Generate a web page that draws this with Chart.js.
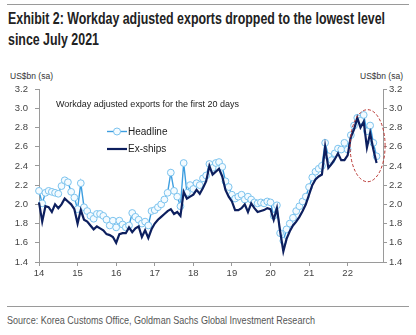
<!DOCTYPE html>
<html><head><meta charset="utf-8">
<script src="https://cdn.jsdelivr.net/npm/chart.js@4.4.0/dist/chart.umd.min.js"></script>
<style>
html,body{margin:0;padding:0;background:#fff;}
body{width:416px;height:335px;position:relative;overflow:hidden;font-family:"Liberation Sans",Arial,sans-serif;}
.rule{position:absolute;left:7px;width:402px;height:1px;background:#9a9a9a;}
#title{position:absolute;left:8px;top:9px;font-family:"Liberation Sans",Arial,sans-serif;font-weight:bold;font-size:16px;line-height:20.5px;color:#222;white-space:nowrap;transform-origin:0 0;}
#title span{display:inline-block;}
#src{position:absolute;left:7px;top:314px;font-family:"Liberation Sans",Arial,sans-serif;font-size:10.5px;color:#555;white-space:nowrap;transform-origin:0 0;display:inline-block;}
.unit{position:absolute;top:71px;font-size:8.5px;color:#333;white-space:nowrap;}
#wrap{position:absolute;left:0;top:60px;width:416px;height:230px;}
</style></head>
<body>
<div class="rule" style="top:4px"></div>
<div id="title"><span id="t1">Exhibit 2: Workday adjusted exports dropped to the lowest level</span><br><span>since July 2021</span></div>
<div class="unit" style="left:10px">US$bn (sa)</div>
<div class="unit" style="left:360px">US$bn (sa)</div>
<div id="wrap"><canvas id="c"></canvas></div>
<div class="rule" style="top:306px"></div>
<div id="src">Source: Korea Customs Office, Goldman Sachs Global Investment Research</div>
<script>
// fit condensed-looking text widths
(function(){
  const t1 = document.getElementById('t1');
  const s = 377 / t1.getBoundingClientRect().width;
  document.getElementById('title').style.transform = 'scaleX(' + s + ')';
  const src = document.getElementById('src');
  const s2 = 308 / src.getBoundingClientRect().width;
  src.style.transform = 'scaleX(' + s2 + ')';
})();

// Month categories Jan 2014 .. Dec 2022 (data runs to Oct 2022)
const years = ['14','15','16','17','18','19','20','21','22'];
const months = [];
years.forEach(y => { for (let m = 1; m <= 12; m++) months.push(y + '-' + (m < 10 ? '0' + m : m)); });

const headline = [
 2.14,2.01,2.12,2.14,2.13,2.12,2.11,2.19,2.25,2.23,2.13,2.07,
 1.95,2.22,1.97,1.93,1.88,1.85,1.90,1.90,1.88,1.84,1.78,1.83,
 1.76,1.83,1.79,1.76,1.78,1.91,1.87,1.84,1.80,1.82,1.78,1.93,
 1.94,1.97,2.00,2.05,2.12,2.33,2.14,2.08,1.98,2.43,2.12,2.20,
 2.16,2.22,2.20,2.27,2.30,2.42,2.38,2.43,2.44,2.39,2.24,2.18,
 2.10,2.06,2.08,2.10,2.05,2.08,2.05,2.02,2.01,2.02,2.01,2.03,
 2.02,1.88,1.99,1.70,1.62,1.74,1.80,1.86,1.93,1.98,2.03,2.08,
 2.18,2.28,2.34,2.37,2.40,2.64,2.50,2.46,2.53,2.58,2.57,2.64,
 2.57,2.72,2.82,2.90,2.87,2.93,2.76,2.82,2.64,2.50
];
const exShips = [
 2.02,1.82,1.98,1.97,1.92,2.00,1.96,2.00,2.06,2.03,2.00,1.95,
 1.80,1.94,1.84,1.82,1.78,1.74,1.77,1.75,1.73,1.69,1.68,1.66,
 1.60,1.69,1.70,1.70,1.76,1.71,1.75,1.77,1.66,1.73,1.65,1.74,
 1.80,1.84,1.87,1.90,1.93,1.95,1.90,1.92,1.88,2.13,2.06,2.08,
 2.10,2.15,2.11,2.17,2.24,2.40,2.31,2.34,2.37,2.29,2.15,2.08,
 2.03,1.94,1.94,1.96,2.00,1.92,2.01,1.96,1.92,1.93,1.94,1.96,
 1.95,1.84,1.96,1.72,1.51,1.64,1.72,1.78,1.82,1.87,1.93,2.00,
 2.10,2.20,2.26,2.29,2.31,2.60,2.38,2.42,2.47,2.53,2.46,2.46,
 2.51,2.70,2.78,2.90,2.80,2.86,2.59,2.74,2.57,2.43
];
const yTicks = [1.4,1.6,1.8,2.0,2.2,2.4,2.6,2.8,3.0,3.2];

const AX = '#9a9a9a', TXT = '#444';
const tickFont = {family:'"Liberation Sans", Arial, sans-serif', size:9.5};

const legendPlugin = {
  id:'customLegend',
  afterDraw(chart){
    const ctx = chart.ctx;
    ctx.save();
    ctx.font = '9px "Liberation Sans", Arial, sans-serif';
    ctx.fillStyle = '#222';
    ctx.textBaseline = 'middle';
    ctx.fillText('Workday adjusted exports for the first 20 days', 56, 45);
    const items = [chart.data.datasets[1], chart.data.datasets[0]];
    const ys = [71.5, 89];
    items.forEach((ds, i) => {
      const y = ys[i];
      ctx.strokeStyle = ds.borderColor; ctx.lineWidth = ds.borderWidth;
      ctx.beginPath(); ctx.moveTo(107, y); ctx.lineTo(127, y); ctx.stroke();
      if (ds.pointRadius > 0) {
        ctx.beginPath(); ctx.arc(117, y, 3.5, 0, Math.PI*2);
        ctx.fillStyle = ds.pointBackgroundColor; ctx.fill();
        ctx.lineWidth = ds.pointBorderWidth; ctx.strokeStyle = ds.pointBorderColor; ctx.stroke();
      }
      ctx.fillStyle = '#222';
      ctx.font = '10px "Liberation Sans", Arial, sans-serif';
      ctx.fillText(ds.label, 128, y + 0.5);
    });
    ctx.restore();
  }
};
const ellipsePlugin = {
  id:'ellipse',
  afterDatasetsDraw(chart){
    const x = chart.scales.x, y = chart.scales.y, ctx = chart.ctx;
    const cx = x.getPixelForValue(102.2), cy = y.getPixelForValue(2.61);
    const rx = x.getPixelForValue(107.65) - cx, ry = cy - y.getPixelForValue(2.985);
    ctx.save();
    ctx.strokeStyle = '#b8322e'; ctx.lineWidth = 1; ctx.setLineDash([3,2]);
    ctx.beginPath(); ctx.ellipse(cx, cy, rx, ry, 0, 0, Math.PI*2); ctx.stroke();
    ctx.restore();
  }
};

new Chart(document.getElementById('c'), {
  type:'line',
  data:{
    labels: months,
    datasets:[
      {label:'Ex-ships', data: exShips, borderColor:'#0d1f5e', borderWidth:2.2, pointRadius:0, tension:0, order:0},
      {label:'Headline', data: headline, borderColor:'#3d9ee0', borderWidth:1.4, pointRadius:3.4,
       pointBackgroundColor:'#f4fbff', pointBorderColor:'#7cc3ee', pointBorderWidth:1, tension:0, order:1}
    ]
  },
  options:{
    responsive:true, maintainAspectRatio:false, animation:false,
    layout:{padding:{top:29,left:0,right:0,bottom:0}},
    plugins:{legend:{display:false}, tooltip:{enabled:false}},
    scales:{
      x:{
        type:'category', offset:false,
        afterFit(s){ s.height = 28; },
        grid:{drawOnChartArea:false, tickLength:4, tickColor:(c)=> (c.index % 12 === 0 ? AX : 'rgba(0,0,0,0)')},
        border:{color:AX},
        ticks:{autoSkip:false, maxRotation:0, padding:2, color:TXT, font:tickFont,
          callback:(v, i)=> (i % 12 === 0 ? years[i/12] : '')}
      },
      y:{
        position:'left', min:1.4, max:3.2,
        afterFit(s){ s.width = 39; },
        afterBuildTicks(s){ s.ticks = yTicks.map(v=>({value:v})); },
        grid:{drawOnChartArea:false, tickLength:4, color:AX},
        border:{color:AX},
        ticks:{padding:7, color:TXT, font:tickFont, callback:v=>v.toFixed(1)}
      },
      y2:{
        position:'right', min:1.4, max:3.2,
        afterFit(s){ s.width = 33; },
        afterBuildTicks(s){ s.ticks = yTicks.map(v=>({value:v})); },
        grid:{drawOnChartArea:false, tickLength:4, color:AX},
        border:{color:AX},
        ticks:{padding:2, color:TXT, font:tickFont, callback:v=>v.toFixed(1)}
      }
    }
  },
  plugins:[legendPlugin, ellipsePlugin]
});
</script>
</body></html>
